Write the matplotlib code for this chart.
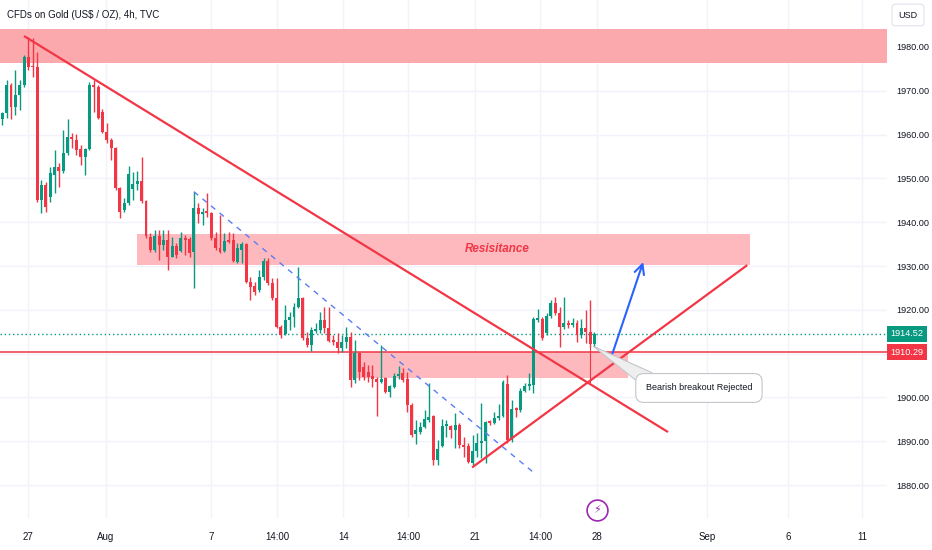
import numpy as np
import matplotlib
matplotlib.use('Agg')
import matplotlib.pyplot as plt
from matplotlib.patches import Rectangle, Polygon
import matplotlib.transforms as mtransforms

# ---------------- data (4h candles, CFDs on Gold) ----------------
opens = [1963.6, 1964.9, 1971.3, 1966.3, 1969.0, 1971.3, 1977.7, 1975.7, 1975.4, 1945.1,
         1948.5, 1945.8, 1950.8, 1952.6, 1951.7, 1955.8, 1959.5, 1958.8, 1956.7, 1954.9,
         1956.7, 1971.3, 1970.9, 1965.2, 1960.6, 1958.8, 1956.9, 1947.8, 1942.8, 1944.4,
         1947.6, 1948.7, 1949.4, 1944.8, 1936.6, 1933.7, 1936.9, 1934.8, 1935.9, 1932.1,
         1934.5, 1933.4, 1936.4, 1936.1, 1933.2, 1943.3, 1941.9, 1942.3, 1942.1, 1936.4,
         1934.1, 1933.4, 1935.7, 1935.9, 1930.9, 1933.7, 1935.0, 1926.4, 1925.4, 1924.5,
         1927.5, 1931.1, 1926.1, 1922.7, 1916.1, 1914.5, 1917.7, 1918.4, 1920.6, 1922.7,
         1913.6, 1912.0, 1915.2, 1915.4, 1917.7, 1915.9, 1913.1, 1912.7, 1911.3, 1912.7,
         1913.8, 1904.0, 1910.1, 1906.9, 1905.8, 1904.9, 1904.2, 1903.5, 1904.4, 1901.2,
         1902.4, 1904.9, 1905.6, 1904.2, 1898.3, 1891.6, 1892.1, 1893.3, 1894.8, 1895.8,
         1885.7, 1888.9, 1893.5, 1893.5, 1892.6, 1893.7, 1889.1, 1888.9, 1885.0, 1887.8,
         1889.6, 1890.1, 1894.6, 1894.2, 1895.3, 1895.8, 1903.1, 1890.3, 1897.6, 1897.1,
         1901.5, 1902.6, 1902.8, 1917.7, 1917.9, 1914.7, 1918.6, 1921.6, 1919.3, 1916.1,
         1917.0, 1916.5, 1917.0, 1914.2, 1915.9, 1914.9, 1912.2]
highs = [1965.2, 1972.5, 1971.8, 1974.8, 1972.5, 1978.2, 1982.3, 1982.1, 1978.9, 1949.6,
         1949.2, 1952.6, 1956.5, 1953.5, 1961.1, 1963.6, 1960.4, 1960.2, 1957.6, 1956.9,
         1972.0, 1972.5, 1971.3, 1965.8, 1962.6, 1959.2, 1957.2, 1948.0, 1945.5, 1952.8,
         1951.5, 1951.7, 1954.9, 1945.1, 1937.5, 1938.2, 1938.2, 1938.2, 1938.2, 1936.6,
         1935.2, 1937.8, 1937.1, 1936.6, 1946.9, 1944.4, 1943.3, 1946.7, 1942.3, 1937.8,
         1941.6, 1937.5, 1937.8, 1937.5, 1935.2, 1935.5, 1935.2, 1927.5, 1926.4, 1929.1,
         1931.8, 1931.8, 1927.3, 1927.3, 1916.5, 1921.1, 1919.5, 1921.5, 1929.8, 1922.9,
         1914.9, 1916.1, 1917.0, 1919.5, 1920.6, 1920.6, 1914.2, 1914.7, 1914.2, 1916.1,
         1914.9, 1913.1, 1910.4, 1908.1, 1907.4, 1907.4, 1904.7, 1912.0, 1904.7, 1902.8,
         1905.6, 1907.2, 1906.7, 1905.8, 1898.7, 1894.8, 1894.4, 1897.1, 1903.3, 1896.0,
         1890.3, 1895.1, 1894.8, 1893.7, 1896.4, 1894.2, 1890.9, 1889.6, 1891.4, 1891.9,
         1898.7, 1894.6, 1894.8, 1896.7, 1898.5, 1904.0, 1905.1, 1899.4, 1897.8, 1902.1,
         1903.3, 1905.6, 1918.3, 1920.2, 1918.3, 1919.3, 1922.2, 1922.9, 1920.6, 1922.9,
         1917.7, 1918.1, 1917.7, 1917.9, 1919.9, 1922.2, 1915.0]
lows = [1962.2, 1963.8, 1963.6, 1964.5, 1965.6, 1970.9, 1974.8, 1973.2, 1944.6, 1942.1,
        1942.3, 1944.6, 1946.7, 1948.0, 1951.2, 1955.3, 1956.9, 1955.3, 1953.1, 1950.8,
        1956.5, 1965.2, 1963.6, 1960.4, 1958.1, 1954.2, 1947.4, 1941.0, 1942.3, 1943.9,
        1945.1, 1947.4, 1944.4, 1936.4, 1933.2, 1933.2, 1931.4, 1933.7, 1929.1, 1932.1,
        1931.8, 1933.2, 1932.5, 1932.1, 1925.0, 1939.8, 1939.4, 1941.2, 1935.9, 1933.7,
        1933.0, 1933.2, 1935.2, 1930.9, 1930.7, 1930.7, 1926.1, 1922.2, 1923.4, 1924.1,
        1926.8, 1925.7, 1922.2, 1915.8, 1913.6, 1914.2, 1915.4, 1916.1, 1920.4, 1913.1,
        1911.5, 1910.6, 1914.7, 1914.7, 1914.7, 1912.7, 1912.0, 1910.2, 1910.4, 1911.3,
        1902.4, 1903.3, 1904.0, 1904.0, 1903.5, 1902.4, 1895.8, 1903.3, 1901.0, 1900.1,
        1902.1, 1904.2, 1903.5, 1896.7, 1890.9, 1889.3, 1891.6, 1893.0, 1894.4, 1884.6,
        1884.6, 1888.7, 1891.0, 1890.7, 1888.4, 1888.4, 1886.4, 1885.0, 1884.6, 1886.4,
        1886.2, 1885.0, 1893.7, 1894.0, 1894.8, 1895.5, 1889.6, 1889.8, 1895.5, 1896.7,
        1901.2, 1901.7, 1901.0, 1917.2, 1913.1, 1914.2, 1918.1, 1918.8, 1911.5, 1915.6,
        1915.8, 1916.1, 1912.7, 1913.6, 1912.4, 1911.5, 1911.5]
closes = [1964.9, 1971.3, 1966.3, 1969.0, 1971.3, 1977.7, 1975.4, 1975.4, 1945.1, 1948.5,
          1943.5, 1951.2, 1952.6, 1951.7, 1955.8, 1959.5, 1959.0, 1956.5, 1954.9, 1956.7,
          1971.3, 1970.9, 1963.8, 1960.6, 1958.8, 1956.9, 1947.8, 1942.3, 1944.4, 1951.0,
          1948.7, 1949.4, 1944.8, 1936.9, 1933.7, 1936.9, 1934.8, 1935.9, 1932.1, 1934.5,
          1932.5, 1936.4, 1935.9, 1933.0, 1943.3, 1941.9, 1942.3, 1942.1, 1936.4, 1934.1,
          1933.2, 1935.7, 1935.5, 1931.1, 1934.1, 1935.0, 1926.4, 1925.2, 1924.1, 1927.5,
          1931.1, 1926.1, 1922.7, 1916.1, 1914.2, 1917.7, 1918.4, 1920.6, 1922.7, 1913.6,
          1912.0, 1915.4, 1915.6, 1917.7, 1915.9, 1912.9, 1912.7, 1911.3, 1912.7, 1913.8,
          1904.0, 1910.1, 1905.8, 1904.7, 1904.7, 1904.2, 1903.5, 1904.2, 1901.2, 1902.6,
          1904.9, 1905.4, 1904.0, 1898.3, 1891.4, 1892.6, 1893.3, 1895.1, 1895.5, 1885.7,
          1888.2, 1893.5, 1893.7, 1892.6, 1893.7, 1889.1, 1888.7, 1885.2, 1887.8, 1889.6,
          1890.1, 1894.4, 1894.2, 1895.3, 1895.8, 1903.5, 1890.3, 1897.3, 1897.1, 1901.5,
          1902.6, 1902.8, 1917.9, 1918.1, 1913.6, 1918.6, 1921.6, 1919.3, 1916.1, 1917.0,
          1916.5, 1917.0, 1914.2, 1915.9, 1914.9, 1912.2, 1914.5]

# x-axis labels (positions in bar index)
xtick_pos = [5.9, 23.8, 47.9, 63.1, 78.3, 93.2, 108.6, 123.5, 136.6, 161.9, 180.5, 197.5]
xtick_labels = ['27', 'Aug', '7', '14:00', '14', '14:00', '21', '14:00', '28', 'Sep', '6', '11']
ytick_vals = [1880, 1890, 1900, 1910, 1920, 1930, 1940, 1950, 1960, 1970, 1980]
ytick_hidden = [1910]   # covered by the price labels in the reference

last_price = 1914.52
level_price = 1910.29

# zones: (x0, x1, y_low, y_high)
zone_top = (-1, 204, 1976.35, 1984.1)
zone_res = (30.9, 171.8, 1930.2, 1937.3)
zone_low = (80.3, 143.7, 1904.4, 1910.3)

# drawings
desc_line = ((5.0, 1982.5), (152.9, 1892.1))
asc_line = ((107.9, 1884.0), (171.1, 1930.2))
dash_line = ((44.0, 1946.97), (121.9, 1882.97))
arrow_pts = ((140.1, 1909.9), (147.2, 1930.9))
vert_line = (135.0, 1911.5, 1903.5)

# ---------------- style ----------------
plt.rcParams['font.family'] = ['Liberation Sans', 'DejaVu Sans']

UP = '#089981'
DOWN = '#f23645'
TXT = '#131722'
GRID = '#f0f3fa'

W, H = 932, 550
fig = plt.figure(figsize=(W / 100, H / 100), dpi=100)
fig.patch.set_facecolor('white')
ax = fig.add_axes([0, 32 / H, 887 / W, 518 / H])
ax.set_facecolor('white')

ax.set_xlim(-0.53, 203.2)
ax.set_ylim(1872.47, 1990.73)

for s in ax.spines.values():
    s.set_visible(False)

# grid
for xp in xtick_pos:
    ax.axvline(xp, color=GRID, lw=1, zorder=0)
for yv in ytick_vals:
    ax.axhline(yv, color=GRID, lw=1, zorder=0)

# zones
for (x0, x1, y0, y1), col in [(zone_top, '#fca9ad'), (zone_res, '#fdb9bd'), (zone_low, '#fdb9bd')]:
    ax.add_patch(Rectangle((x0, y0), x1 - x0, y1 - y0, facecolor=col, edgecolor='none', zorder=1))

ax.text(113.6, 1933.9, 'Resisitance', color=DOWN, fontsize=8.4, fontweight='bold',
        fontstyle='italic', ha='center', va='center', zorder=2)

# candles
x = np.arange(len(opens))
o = np.array(opens); h = np.array(highs); l = np.array(lows); c = np.array(closes)
cols = np.where(c >= o, UP, DOWN)
ax.vlines(x, l, h, colors=cols, lw=1, zorder=3)
bottoms = np.minimum(o, c)
heights = np.maximum(np.abs(c - o), 0.35)
ax.bar(x, heights, bottom=bottoms, width=0.68, color=cols, edgecolor='none', zorder=4)

# horizontal levels
ax.axhline(last_price, color=UP, lw=1, ls=(0, (1, 2)), zorder=2)
ax.axhline(level_price, color=DOWN, lw=1.3, alpha=0.85, zorder=2)

# trendlines
for (p0, p1) in [desc_line, asc_line]:
    ax.plot([p0[0], p1[0]], [p0[1], p1[1]], color=DOWN, lw=1.6, zorder=5, solid_capstyle='butt')
ax.plot([dash_line[0][0], dash_line[1][0]], [dash_line[0][1], dash_line[1][1]],
        color='#5b7cf5', lw=1, ls=(0, (4, 4)), zorder=5)
ax.plot([vert_line[0], vert_line[0]], [vert_line[1], vert_line[2]], color=DOWN, lw=0.8, zorder=5)

ax.annotate('', xy=arrow_pts[1], xytext=arrow_pts[0],
            arrowprops=dict(arrowstyle='->,head_length=0.7,head_width=0.35', color='#2962ff', lw=1.5,
                            shrinkA=0, shrinkB=0), zorder=6)

# callout
ax.add_patch(Polygon([(135.7, 1911.7), (146.3, 1903.3), (149.3, 1905.6)], closed=True,
                     facecolor='#eeeeee', edgecolor='#c4c6cc', lw=0.8, zorder=6))
ax.text(160.0, 1902.15, 'Bearish breakout Rejected', fontsize=6.5, color=TXT, ha='center', va='center',
        zorder=7, bbox=dict(boxstyle='round,pad=1.1,rounding_size=0.9', fc='white', ec='#c4c6cc', lw=0.8))

# lightning icon
ax.plot([136.6], [1874.3], marker='o', ms=15, mfc='white', mec='#9c27b0', mew=1.2, zorder=8, clip_on=False)
ax.text(136.6, 1874.3, '\u26a1', fontsize=8, color='#9c27b0', ha='center', va='center',
        family='DejaVu Sans', zorder=9)

# axes ticks
ax.yaxis.tick_right()
ax.set_yticks(ytick_vals)
ax.set_yticklabels(['' if v in ytick_hidden else f'{v:.2f}' for v in ytick_vals])
ax.tick_params(axis='y', length=0, pad=7, labelsize=6.6, labelcolor=TXT)
ax.set_xticks(xtick_pos)
ax.set_xticklabels(xtick_labels)
ax.tick_params(axis='x', length=0, pad=10, labelsize=7, labelcolor=TXT)

# right-axis price labels
trans = mtransforms.blended_transform_factory(ax.transAxes, ax.transData)
hbox = 16 * (1990.73 - 1872.47) / 518
for val, col in [(last_price, UP), (level_price, DOWN)]:
    ax.add_patch(Rectangle((1.0, val - hbox / 2), 40 / 887, hbox, transform=trans, facecolor=col,
                           edgecolor='none', clip_on=False, zorder=10))
    ax.text(1.0 + 20 / 887, val, f'{val:.2f}', transform=trans, color='white', fontsize=6.6,
            ha='center', va='center', clip_on=False, zorder=11)

# title and currency
fig.text(7 / W, 1 - 15 / H, 'CFDs on Gold (US$ / OZ), 4h, TVC', fontsize=7, color=TXT, ha='left', va='center')
fig.text(908 / W, 1 - 15 / H, 'USD', fontsize=6.5, color=TXT, ha='center', va='center',
         bbox=dict(boxstyle='round,pad=0.7,rounding_size=0.3', fc='white', ec='#e0e3eb', lw=0.8))

fig.savefig('out.png', dpi=100)
